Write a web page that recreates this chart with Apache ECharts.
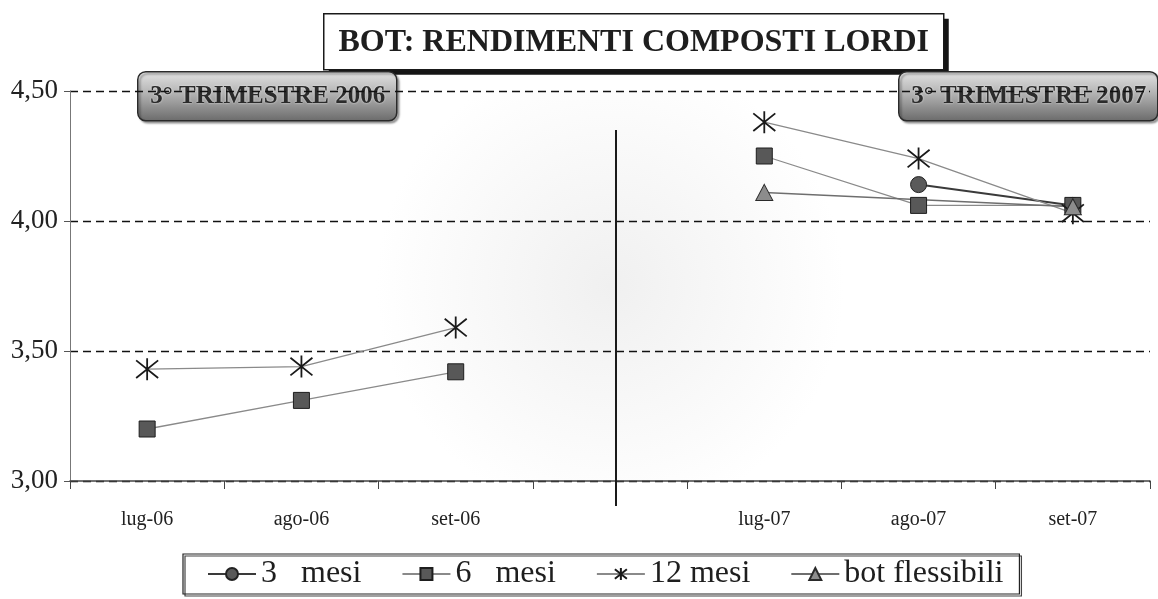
<!DOCTYPE html>
<html><head><meta charset="utf-8">
<script src="https://cdn.jsdelivr.net/npm/echarts@6/dist/echarts.min.js"></script>
<style>html,body{margin:0;padding:0;background:#fff}#c{width:1158px;height:599px}</style>
</head><body><div id="c"></div>
<script>
const categories = ['lug-06','ago-06','set-06','','lug-07','ago-07','set-07'];
const mesi3 = [null,null,null,null,null,4.14,4.06];
const mesi6 = [3.20,3.31,3.42,null,4.25,4.06,4.06];
const mesi12 = [3.43,3.44,3.59,null,4.38,4.24,4.03];
const botFlessibili = [null,null,null,null,4.11,null,4.055];
const seriesNames = ['3 mesi','6 mesi','12 mesi','bot flessibili'];
const yMin = 3.0, yMax = 4.5, yStep = 0.5;
const titleText = 'BOT: RENDIMENTI COMPOSTI LORDI';
const badgeLabels = ['3° TRIMESTRE 2006','3° TRIMESTRE 2007'];

const SERIF = '"Liberation Serif","DejaVu Serif",serif';
const starPath = 'path://M0,-10L0,10M-8,-8L8,8M-8,8L8,-8';

const chart = echarts.init(document.getElementById('c'), null, {renderer:'canvas'});

function badge(x, text){
  return {
    type:'group', left:x, top:71, z:100,
    children:[
      {type:'rect', shape:{x:0,y:0,width:259,height:49,r:8},
       style:{fill:new echarts.graphic.LinearGradient(0,0,0,1,[
         {offset:0,color:'#e4e4e4'},{offset:0.45,color:'#b2b2b2'},{offset:1,color:'#6a6a6a'}]),
         stroke:'#2a2a2a', lineWidth:1.5,
         shadowColor:'rgba(0,0,0,0.35)', shadowBlur:2, shadowOffsetX:2, shadowOffsetY:2}},
      {type:'text', x:130, y:25,
       style:{text:text, fill:'#2b2b2b', font:'bold 25px '+SERIF, align:'center', verticalAlign:'middle',
         textShadowColor:'rgba(255,255,255,0.8)', textShadowBlur:2}}
    ]
  };
}
function titleBox(){
  return {
    type:'group', left:323, top:13, z:100,
    children:[
      {type:'rect', shape:{x:5,y:5,width:620,height:56}, style:{fill:'#151515'}},
      {type:'rect', shape:{x:0,y:0,width:620,height:56}, style:{fill:'#ffffff', stroke:'#1a1a1a', lineWidth:1.5}},
      {type:'text', x:310, y:29,
       style:{text:titleText, fill:'#1e1e1e', font:'bold 32px '+SERIF, align:'center', verticalAlign:'middle'}}
    ]
  };
}

const option = {
  backgroundColor:'#ffffff',
  animation:false,
  grid:{left:70, right:8, top:91, bottom:118, show:true, borderWidth:0,
    backgroundColor:new echarts.graphic.RadialGradient(0.5,0.5,0.6,[
      {offset:0,color:'#f0f0f0'},{offset:1,color:'#ffffff'}])},
  legend:{
    left:183, top:554, width:900,
    data:seriesNames,
    itemWidth:48, itemHeight:15, itemGap:40,
    padding:[4,16,4,24],
    borderColor:'#222', borderWidth:1.2,
    shadowColor:'#444', shadowOffsetX:2, shadowOffsetY:2,
    formatter:function(n){ return n.replace(/^(\d) mesi$/, '$1\u2002 mesi'); },
    textStyle:{fontFamily:SERIF, fontSize:32, color:'#1e1e1e'}
  },
  xAxis:{
    type:'category', data:categories, boundaryGap:true,
    axisLine:{show:true, lineStyle:{color:'#444', width:1.5}},
    axisTick:{show:true, length:8, interval:0, lineStyle:{color:'#444'}},
    axisLabel:{interval:0, margin:29, fontFamily:SERIF, fontSize:20, color:'#222'},
    splitLine:{show:false}
  },
  yAxis:{
    type:'value', min:yMin, max:yMax, interval:yStep,
    axisLine:{show:true, lineStyle:{color:'#777', width:1}},
    axisTick:{show:true, length:6, lineStyle:{color:'#555'}},
    axisLabel:{margin:12, fontFamily:SERIF, fontSize:27, color:'#222',
      formatter:function(v){ return v.toFixed(2).replace('.',','); }},
    splitLine:{show:true, lineStyle:{color:'#111', type:[8,5], width:1.4}}
  },
  series:[
    {name:seriesNames[0], type:'line', data:mesi3, connectNulls:false,
     symbol:'circle', symbolSize:16,
     lineStyle:{color:'#3a3a3a', width:2},
     itemStyle:{color:'#5a5a5a', borderColor:'#222', borderWidth:1}},
    {name:seriesNames[1], type:'line', data:mesi6, connectNulls:false,
     symbol:'rect', symbolSize:16,
     lineStyle:{color:'#8a8a8a', width:1.3},
     itemStyle:{color:'#585858', borderColor:'#1e1e1e', borderWidth:1}},
    {name:seriesNames[2], type:'line', data:mesi12, connectNulls:false,
     symbol:starPath, symbolSize:22,
     lineStyle:{color:'#8a8a8a', width:1.3},
     itemStyle:{color:'rgba(0,0,0,0)', borderColor:'#1a1a1a', borderWidth:1.8}},
    {name:seriesNames[3], type:'line', data:botFlessibili, connectNulls:true,
     symbol:'triangle', symbolSize:[17,16],
     lineStyle:{color:'#6e6e6e', width:1.5},
     itemStyle:{color:'#8c8c8c', borderColor:'#2a2a2a', borderWidth:1}}
  ],
  graphic:[titleBox(), badge(137, badgeLabels[0]), badge(898, badgeLabels[1])]
};
chart.setOption(option);

// vertical separator at the blank category
const px = chart.convertToPixel({xAxisIndex:0}, categories[3]);
const yTop = chart.convertToPixel({yAxisIndex:0}, 4.35);
const yBot = chart.convertToPixel({yAxisIndex:0}, yMin);
chart.setOption({graphic:[
  titleBox(), badge(137, badgeLabels[0]), badge(898, badgeLabels[1]),
  {type:'line', z:50, shape:{x1:px+6, y1:yTop, x2:px+6, y2:yBot+25},
   style:{stroke:'#1a1a1a', lineWidth:2}}
]});
</script>
</body></html>
